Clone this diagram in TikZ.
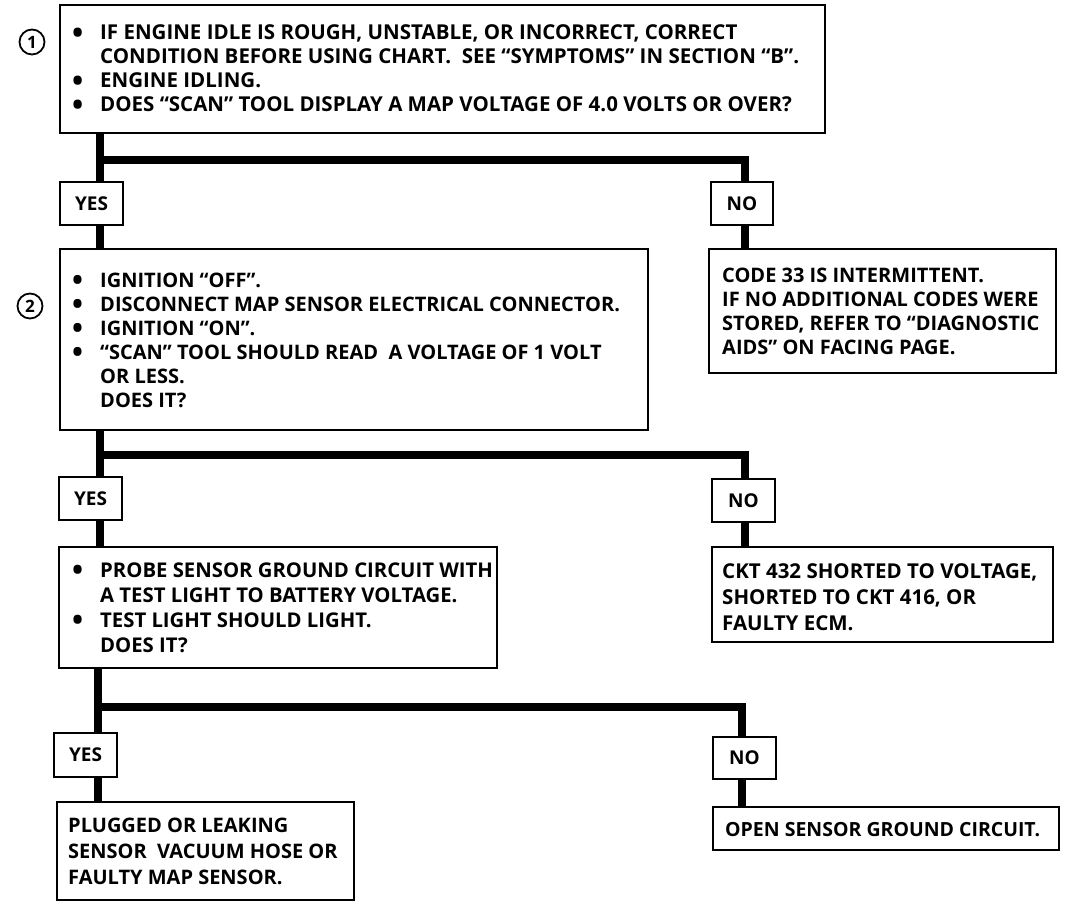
\documentclass[tikz,border=0pt]{standalone}
\usepackage{fontspec}
\setmainfont{Open Sans}
\newcommand\fsz[2]{\fontsize{#1}{#2}\selectfont\bfseries}
% enlarged bullet, kept centred on the capital letters
\newcommand\bul{\makebox[28pt][l]{\raisebox{-3.5pt}[0pt][0pt]{\scalebox{1.45}{\textbullet}}}}
\newcommand\ind{\hspace*{28pt}}
\begin{document}
\begin{tikzpicture}[x=1pt,y=-1pt,
  box/.style={draw, line width=2pt, anchor=north west, inner sep=0pt, outer sep=0pt},
  txt/.style={anchor=base west, inner sep=0pt, align=left},
  lbl/.style={box, font=\fsz{19}{20}},
  num/.style={draw, circle, line width=1.8pt, minimum size=25pt, inner sep=0pt, font=\fsz{17}{18}},
  flow/.style={line width=7.5pt}]
\useasboundingbox (0,0) rectangle (1081,909);

% ---- step 1 (text nodes are placed by the baseline of their last line) ----
\node[num] (c1) at (32,42) {1};
\node[box, minimum width=765pt, minimum height=128pt] (b1) at (60,5) {};
\node[txt, font=\fsz{20.5}{24}] (t1) at (72,112) {\bul IF ENGINE IDLE IS ROUGH, UNSTABLE, OR INCORRECT, CORRECT\\
\ind CONDITION BEFORE USING CHART.\ \ SEE “SYMPTOMS” IN SECTION “B”.\\
\bul ENGINE IDLING.\\
\bul DOES “SCAN” TOOL DISPLAY A MAP VOLTAGE OF 4.0 VOLTS OR OVER?};

\coordinate (j1) at (100,160);
\coordinate (k1) at (745,160);
\node[lbl, minimum width=63pt, minimum height=43pt] (y1) at (60,182) {YES};
\node[lbl, minimum width=62pt, minimum height=43pt] (n1) at (711,182) {NO};

% ---- step 2 ----
\node[num] (c2) at (30,306) {2};
\node[box, minimum width=588pt, minimum height=181pt] (b2) at (60,249) {};
\node[txt, font=\fsz{20}{24}] (t2) at (72,407) {\bul IGNITION “OFF”.\\
\bul DISCONNECT MAP SENSOR ELECTRICAL CONNECTOR.\\
\bul IGNITION “ON”.\\
\bul “SCAN” TOOL SHOULD READ\ \ A VOLTAGE OF 1 VOLT\\
\ind OR LESS.\\
\ind DOES IT?};

\node[box, minimum width=347pt, minimum height=124pt] (r1) at (709,249) {};
\node[txt, font=\fsz{20}{24}] (s1) at (722,354) {CODE 33 IS INTERMITTENT.\\
IF NO ADDITIONAL CODES WERE\\
STORED, REFER TO “DIAGNOSTIC\\
AIDS” ON FACING PAGE.};

\draw[flow] (j1 |- b1.south) -- (j1 |- y1.north);
\draw[flow] (j1) -- (k1) -- (k1 |- n1.north);
\draw[flow] (j1 |- y1.south) -- (j1 |- b2.north);
\draw[flow] (k1 |- n1.south) -- (k1 |- r1.north);

% ---- step 3 ----
\coordinate (j2) at (100,455);
\coordinate (k2) at (745,455);
\node[lbl, minimum width=63pt, minimum height=43pt] (y2) at (59,477) {YES};
\node[lbl, minimum width=63pt, minimum height=43pt] (n2) at (712,479) {NO};

\node[box, minimum width=438pt, minimum height=121pt] (b3) at (59,547) {};
\node[txt, font=\fsz{20.3}{25}] (t3) at (72,652) {\bul PROBE SENSOR GROUND CIRCUIT WITH\\
\ind A TEST LIGHT TO BATTERY VOLTAGE.\\
\bul TEST LIGHT SHOULD LIGHT.\\
\ind DOES IT?};

\node[box, minimum width=341pt, minimum height=95pt] (r2) at (712,547) {};
\node[txt, font=\fsz{20.5}{26}] (s2) at (722,630) {CKT 432 SHORTED TO VOLTAGE,\\
SHORTED TO CKT 416, OR\\
FAULTY ECM.};

\draw[flow] (j2 |- b2.south) -- (j2 |- y2.north);
\draw[flow] (j2) -- (k2) -- (k2 |- n2.north);
\draw[flow] (j2 |- y2.south) -- (j2 |- b3.north);
\draw[flow] (k2 |- n2.south) -- (k2 |- r2.north);

% ---- step 4 ----
\coordinate (j3) at (98,707);
\coordinate (k3) at (742,707);
\node[lbl, minimum width=63pt, minimum height=44pt] (y3) at (54,733) {YES};
\node[lbl, minimum width=63pt, minimum height=42pt] (n3) at (713,737) {NO};

\node[box, minimum width=297pt, minimum height=98pt] (b4) at (57,802) {};
\node[txt, font=\fsz{20}{26}] (t4) at (68,884) {PLUGGED OR LEAKING\\
SENSOR\ \ VACUUM HOSE OR\\
FAULTY MAP SENSOR.};

\node[box, minimum width=346pt, minimum height=43pt] (r3) at (713,807) {};
\node[txt, font=\fsz{19.5}{20}] (s3) at (725,836) {OPEN SENSOR GROUND CIRCUIT.};

\draw[flow] (j3 |- b3.south) -- (j3 |- y3.north);
\draw[flow] (j3) -- (k3) -- (k3 |- n3.north);
\draw[flow] (j3 |- y3.south) -- (j3 |- b4.north);
\draw[flow] (k3 |- n3.south) -- (k3 |- r3.north);
\end{tikzpicture}
\end{document}
